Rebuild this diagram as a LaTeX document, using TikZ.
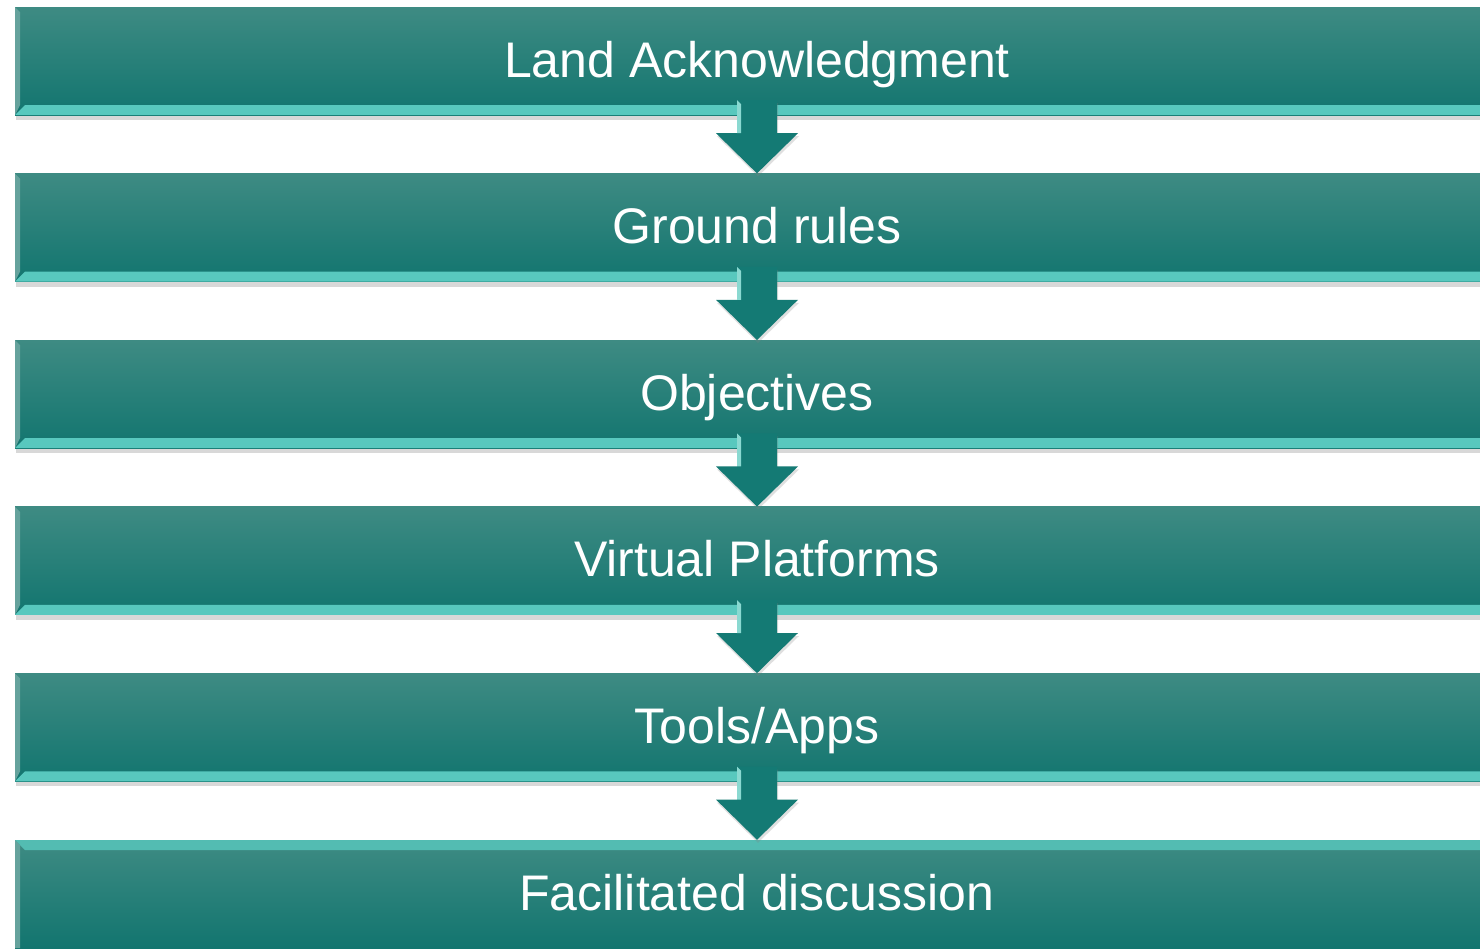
\documentclass[tikz,border=0pt]{standalone}
\usepackage{fontspec}
\setmainfont{Liberation Sans}
\usetikzlibrary{calc,shadows}
\definecolor{barTop}{RGB}{62,139,131}
\definecolor{barBot}{RGB}{18,117,111}
\definecolor{bevelLight}{RGB}{88,200,190}
\definecolor{arrowFill}{RGB}{20,122,116}
\tikzset{
  bar/.style={minimum width=1484pt, minimum height=108pt, inner sep=0pt,
    top color=barTop, bottom color=barBot, text=white,
    text height=36pt, text depth=4pt,
    font=\fontsize{50}{60}\selectfont,
    drop shadow={opacity=.3, shadow xshift=1pt, shadow yshift=-5pt}},
  lowbevel/.style={path picture={
    \fill[bevelLight] (path picture bounding box.south west) -- (path picture bounding box.south east)
      -- ++(0pt,10pt) -- ($(path picture bounding box.south west)+(10pt,10pt)$) -- cycle;
    \fill[barTop!80!white] (path picture bounding box.south west) -- (path picture bounding box.north west)
      -- ++(5pt,-5pt) -- ($(path picture bounding box.south west)+(5pt,10pt)$) -- cycle;}},
  highbevel/.style={path picture={
    \fill[bevelLight!80!barTop] (path picture bounding box.north west) -- (path picture bounding box.north east)
      -- ++(0pt,-10pt) -- ($(path picture bounding box.north west)+(10pt,-10pt)$) -- cycle;
    \fill[barTop!80!white] (path picture bounding box.south west) -- (path picture bounding box.north west)
      -- ++(5pt,-5pt) -- ($(path picture bounding box.south west)+(5pt,0pt)$) -- cycle;}},
  downarrow/.style={fill=arrowFill, drop shadow={opacity=.25, shadow xshift=1pt, shadow yshift=-3pt}},
  shafthigh/.style={fill=bevelLight!70!white}
}

\begin{document}
\begin{tikzpicture}[x=1pt,y=-1pt]
  \useasboundingbox (0,0) rectangle (1480,948);
  \fill[white] (0,0) rectangle (1480,948);

  %%%%% bars %%%%%
  \foreach \txt [count=\i] in {Land Acknowledgment,Ground rules,Objectives,Virtual Platforms,Tools/Apps}
    \node[bar, lowbevel] (b\i) at (757, {61+166.6*(\i-1)}) {\txt};
  \node[bar, highbevel] (b6) at (757, 894) {Facilitated discussion};

  %%%%% arrows between bars %%%%%
  \foreach \i [evaluate=\i as \j using int(\i+1)] in {1,...,5} {
    \path[downarrow] ($(b\i.south)+(-20,-15)$) -- ($(b\i.south)+(20,-15)$) -- ($(b\i.south)+(20,18)$)
      -- ($(b\i.south)+(41,18)$) -- (b\j.north) -- ($(b\i.south)+(-41,18)$) -- ($(b\i.south)+(-20,18)$) -- cycle;
    \fill[shafthigh] ($(b\i.south)+(-20,-15)$) -- ($(b\i.south)+(-16,-11)$) -- ($(b\i.south)+(-16,18)$)
      -- ($(b\i.south)+(-20,18)$) -- cycle;
  }
\end{tikzpicture}
\end{document}
